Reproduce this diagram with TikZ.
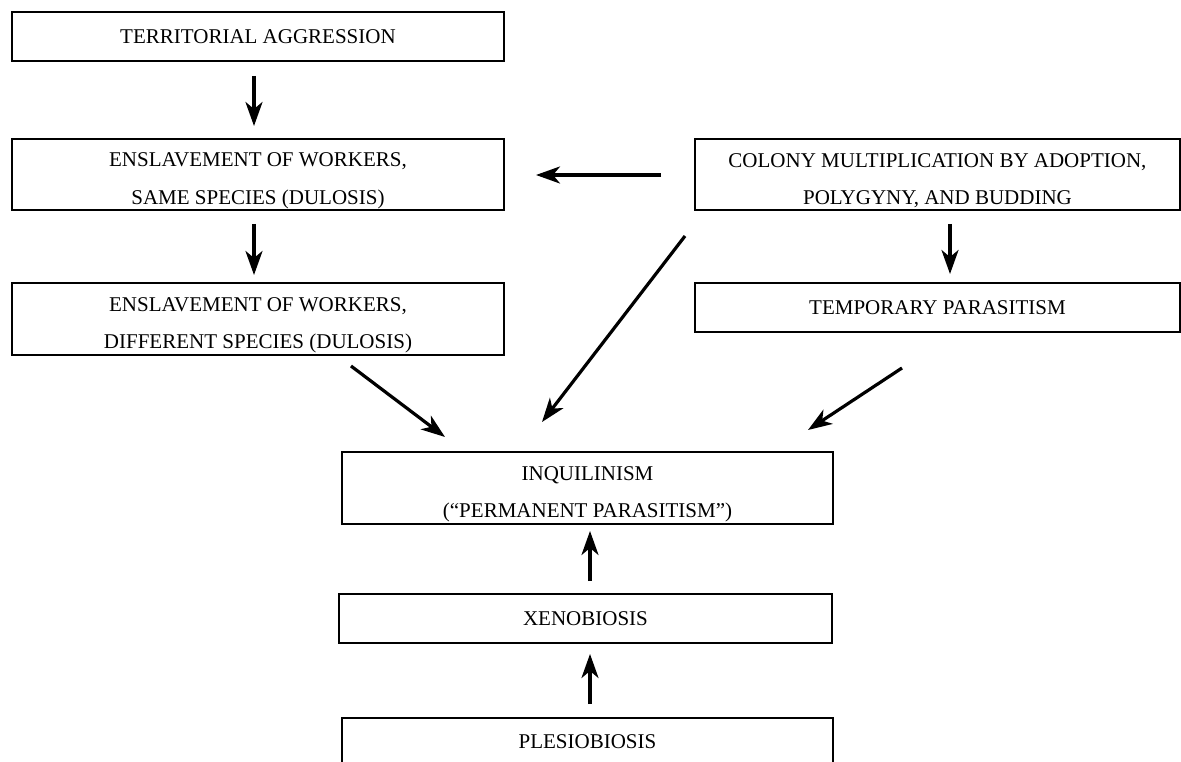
\documentclass[tikz,border=0pt]{standalone}
\usepackage{fontspec}
\setmainfont{Liberation Serif}
\usetikzlibrary{calc,arrows.meta}
\newcommand{\topstrut}{\rule{0pt}{26pt}}
\begin{document}
\begin{tikzpicture}[x=1pt,y=-1pt,
  box/.style={draw=black,line width=2pt,rectangle,inner sep=0pt,align=center,
    font=\fontsize{21}{37.5}\selectfont},
  arr/.style={line width=3.2pt,-{Stealth[length=24pt,width=17pt,inset=7pt]}}]
\useasboundingbox (0,0) rectangle (1181,762);
\node[box,minimum width=492pt,minimum height=49pt] (t1) at (258,36.5) {TERRITORIAL AGGRESSION};
\node[box,minimum width=492pt,minimum height=71pt] (e1) at (258,174.5) {\topstrut ENSLAVEMENT OF WORKERS,\\SAME SPECIES (DULOSIS)};
\node[box,minimum width=492pt,minimum height=72pt] (e2) at (258,319) {\topstrut ENSLAVEMENT OF WORKERS,\\DIFFERENT SPECIES (DULOSIS)};
\node[box,minimum width=485pt,minimum height=71pt] (c1) at (937.5,174.5) {\topstrut COLONY MULTIPLICATION BY ADOPTION,\\POLYGYNY, AND BUDDING};
\node[box,minimum width=485pt,minimum height=49pt] (tp) at (937.5,307.5) {TEMPORARY PARASITISM};
\node[box,minimum width=491pt,minimum height=72pt] (inq) at (587.5,488) {\topstrut INQUILINISM\\(“PERMANENT PARASITISM”)};
\node[box,minimum width=493pt,minimum height=49pt] (xe) at (585.5,618.5) {XENOBIOSIS};
\node[box,minimum width=491pt,minimum height=64pt,text depth=16pt] (pl) at (587.5,750) {PLESIOBIOSIS};
\draw[arr] ($(t1.south)+(-4,14)$) -- ($(e1.north)+(-4,-12)$);
\draw[arr] ($(e1.south)+(-4,13)$) -- ($(e2.north)+(-4,-7)$);
\draw[arr] ($(c1.west)+(-33,0.5)$) -- ($(e1.east)+(31,0.5)$);
\draw[arr] ($(c1.south)+(12.5,13)$) -- ($(tp.north)+(12.5,-8)$);
\draw[arr] ($(c1.south west)+(-9,25)$) -- ($(inq.north west)+(201,-29)$);
\draw[arr] ($(e2.south)+(93,10)$) -- ($(inq.north west)+(104,-14)$);
\draw[arr] ($(tp.south east)+(-279,35)$) -- ($(inq.north east)+(-26,-21)$);
\draw[arr] ($(xe.north)+(4.5,-12)$) -- ($(inq.south)+(2.5,6)$);
\draw[arr] ($(pl.north)+(2.5,-13)$) -- ($(xe.south)+(4.5,10)$);
\end{tikzpicture}
\end{document}
